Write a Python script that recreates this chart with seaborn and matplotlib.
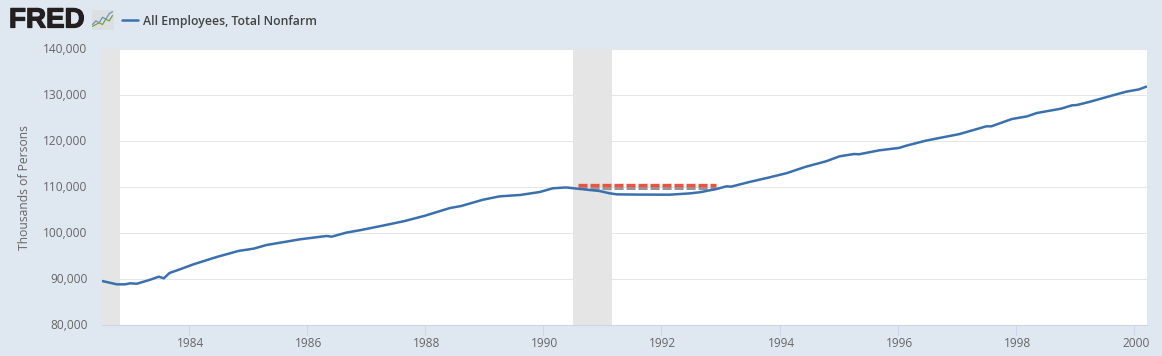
# FRED chart: All Employees, Total Nonfarm 1982-2000
import matplotlib
matplotlib.use('Agg')
import matplotlib.pyplot as plt
import matplotlib.dates as mdates
import matplotlib.patheffects as pe
from matplotlib.transforms import ScaledTranslation
import pandas as pd
import seaborn as sns

# Points, in thousands of persons
dates = ['1982-07-15', '1982-10-15', '1982-12-05', '1983-01-05', '1983-02-15', '1983-05-05',
         '1983-07-01', '1983-08-01', '1983-09-05', '1983-11-20', '1984-02-01', '1984-06-24',
         '1984-11-05', '1985-02-06', '1985-04-28', '1985-11-20', '1986-05-03', '1986-06-03',
         '1986-09-04', '1986-11-25', '1987-04-15', '1987-08-28', '1988-01-01', '1988-06-03',
         '1988-08-12', '1988-12-25', '1989-04-07', '1989-08-10', '1989-12-10', '1990-03-01',
         '1990-05-22', '1990-10-15', '1990-12-15', '1991-02-15', '1991-04-01', '1991-08-18',
         '1992-02-20', '1992-06-20', '1992-08-24', '1992-12-06', '1993-02-06', '1993-03-06',
         '1993-06-28', '1993-11-01', '1994-02-12', '1994-06-12', '1994-10-15', '1995-01-06',
         '1995-04-06', '1995-05-06', '1995-09-08', '1996-01-10', '1996-02-22', '1996-06-22',
         '1996-10-25', '1997-01-15', '1997-07-01', '1997-08-01', '1997-12-06', '1998-03-10',
         '1998-05-10', '1998-10-06', '1998-12-12', '1999-01-12', '1999-03-28', '1999-08-15',
         '1999-11-12', '2000-02-01', '2000-03-15']
employees = [89570, 88840, 88840, 89060, 88970, 89800,
             90500, 90150, 91300, 92250, 93200, 94800,
             96100, 96600, 97400, 98630, 99350, 99200,
             100100, 100600, 101600, 102600, 103760, 105430,
             105870, 107240, 107970, 108260, 108910, 109720,
             109900, 109350, 109130, 108630, 108400, 108350,
             108330, 108600, 108850, 109560, 110150, 110070,
             111090, 112110, 113000, 114410, 115590, 116670,
             117170, 117110, 117970, 118500, 118980, 120070,
             120940, 121500, 123190, 123190, 124780, 125360,
             126090, 127030, 127750, 127830, 128480, 129860,
             130720, 131230, 131810]
recession_starts = ['1982-01-01', '1990-07-01']
recession_ends = ['1982-11-01', '1991-03-01']
flat_dates = ['1990-08-01', '1992-12-01']
flat_red = [110500, 110500]
flat_grey = [109750, 109750]
y_ticks = [80000, 90000, 100000, 110000, 120000, 130000, 140000]
x_years = [1984, 1986, 1988, 1990, 1992, 1994, 1996, 1998, 2000]

bg = '#dfe8f1'
blue = '#3a70ae'
text_col = '#666666'
axis_col = '#ccd6eb'

df = pd.DataFrame({'date': pd.to_datetime(dates), 'employees': employees})
flat = pd.DataFrame({'date': pd.to_datetime(flat_dates), 'red': flat_red, 'grey': flat_grey})

sns.set_theme(style='white')
plt.rcParams['font.family'] = ['Open Sans', 'DejaVu Sans']

W, H = 1162, 356
fig = plt.figure(figsize=(W / 100, H / 100), dpi=100, facecolor=bg)
ax = fig.add_axes([102 / W, 1 - 325 / H, 1045 / W, 276 / H])

for s, e in zip(recession_starts, recession_ends):
    ax.axvspan(pd.Timestamp(s), pd.Timestamp(e), color='#e5e5e5', lw=0, zorder=1)

sns.lineplot(data=flat, x='date', y='grey', ax=ax, color='#969696', lw=2.2, zorder=2,
             linestyle=(0, (2.95, 0.98)))
sns.lineplot(data=df, x='date', y='employees', ax=ax, color=blue, lw=1.8, zorder=3)
sns.lineplot(data=flat, x='date', y='red', ax=ax, color='#f2503f', lw=2.4, zorder=4,
             linestyle=(0, (2.7, 0.9)))

ax.set_xlim(pd.Timestamp('1982-07-15'), pd.Timestamp('2000-03-20'))
ax.set_ylim(80000, 140000)
ax.set_yticks(y_ticks)
ax.set_yticklabels([f'{v:,}' for v in y_ticks])
ax.set_xticks([pd.Timestamp(f'{y}-01-01') for y in x_years])
ax.xaxis.set_major_formatter(mdates.DateFormatter('%Y'))
ax.grid(axis='y', color='#e6e6e6', lw=0.75)
ax.set_axisbelow(True)
for name, sp in ax.spines.items():
    sp.set_visible(name == 'bottom')
ax.spines['bottom'].set_color(axis_col)
ax.spines['bottom'].set_linewidth(0.75)
ax.tick_params(axis='x', length=7, width=0.75, color=axis_col, labelcolor=text_col,
               labelsize=8.6, pad=1.6, bottom=True)
ax.tick_params(axis='y', length=0, labelcolor=text_col, labelsize=8.6, pad=10.5)
up = ScaledTranslation(0, 1.5 / 100, fig.dpi_scale_trans)
for lab in ax.get_yticklabels():
    lab.set_transform(lab.get_transform() + up)
right = ScaledTranslation(1.5 / 100, 0, fig.dpi_scale_trans)
for lab in ax.get_xticklabels():
    lab.set_transform(lab.get_transform() + right)
ax.set_xlabel('')
ax.set_ylabel('')
fig.text(24 / W, 1 - 187 / H, 'Thousands of Persons', rotation=90, ha='center', va='center',
         color=text_col, fontsize=8.7)

# header: logo text, little icon and legend
logo = fig.text(9 / W, 1 - 20.5 / H, 'FRED', family=['Liberation Sans'], weight='bold',
                color='#231f20', fontsize=20, ha='left', va='center')
logo.set_path_effects([pe.withStroke(linewidth=0.9, foreground='#231f20')])
icon = fig.add_axes([91.5 / W, 1 - 30 / H, 22 / W, 20 / H], facecolor='#dcdfe2')
icon_x = [0, 1, 2, 3, 4, 5, 6]
icon_blue = [2, 4, 3, 6, 5, 8, 9]
icon_green = [1, 2, 3, 2, 5, 4, 7]
sns.lineplot(x=icon_x, y=icon_blue, ax=icon, color='#6f93b3', lw=0.9)
sns.lineplot(x=icon_x, y=icon_green, ax=icon, color='#78a045', lw=0.9)
icon.set_xlim(-0.3, 6.3)
icon.set_ylim(-1, 10)
icon.set_xticks([])
icon.set_yticks([])
icon.set_xlabel('')
icon.set_ylabel('')
for sp in icon.spines.values():
    sp.set_visible(False)

fig.add_artist(plt.Line2D([122 / W, 138 / W], [1 - 20 / H, 1 - 20 / H], color=blue, lw=1.8))
fig.text(143 / W, 1 - 21.5 / H, 'All Employees, Total Nonfarm', color='#444444', fontsize=8.85,
         ha='left', va='center', weight='semibold')

fig.savefig('out.png', dpi=100, facecolor=bg)
